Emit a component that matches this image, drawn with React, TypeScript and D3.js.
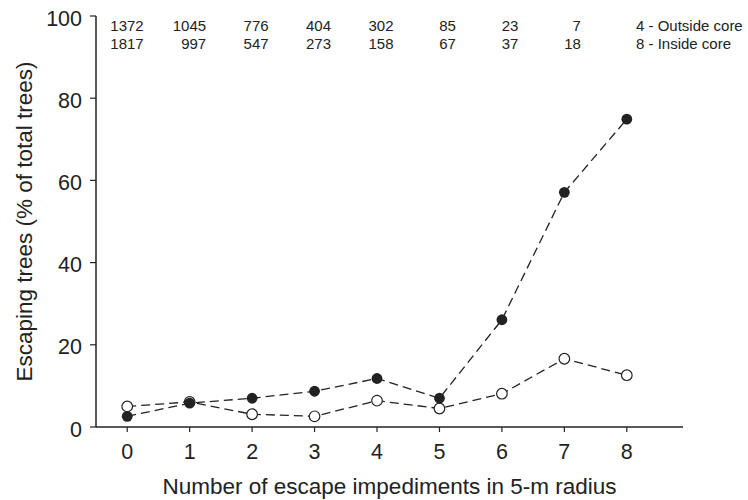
import React from 'react';
import * as d3 from 'd3';

// impediment counts on the x axis
const impediments = [0, 1, 2, 3, 4, 5, 6, 7, 8];
// sample sizes printed along the top
const outsideCoreN = [1372, 1045, 776, 404, 302, 85, 23, 7];
const insideCoreN = [1817, 997, 547, 273, 158, 67, 37, 18];
const nLabels = ['4 - Outside core', '8 - Inside core'];
// escaping trees (% of total trees)
const filledSeries = [2.6, 5.8, 7.0, 8.7, 11.8, 7.0, 26.1, 57.1, 74.9];
const openSeries = [5.0, 6.1, 3.1, 2.6, 6.4, 4.5, 8.1, 16.6, 12.6];
const yTicks = [0, 20, 40, 60, 80, 100];

const App = () => {
    const width = 748;
    const height = 500;
    const ink = '#222';
    const font = '"Liberation Sans", Arial, sans-serif';

    const x = d3.scaleLinear().domain([-0.5, 8.9]).range([96, 683]);
    const y = d3.scaleLinear().domain([0, 100]).range([427, 16]);

    const line = d3.line<number>()
        .x((d, i) => x(impediments[i]))
        .y(d => y(d));

    const nRows = [outsideCoreN, insideCoreN];

    return (
        <svg width={width} height={height} style={{ position: 'absolute', left: 0, top: 0 }} fontFamily={font}>
            <rect width={width} height={height} fill="white" />

            {/* axes */}
            <line x1={x(-0.5)} x2={x(-0.5)} y1={y(100)} y2={y(0)} stroke={ink} strokeWidth={1.5} />
            <line x1={x(-0.5)} x2={x(8.9)} y1={y(0)} y2={y(0)} stroke={ink} strokeWidth={1.5} />
            {yTicks.map(t => (
                <g key={t}>
                    <line x1={x(-0.5) - 6} x2={x(-0.5)} y1={y(t)} y2={y(t)} stroke={ink} strokeWidth={1.2} />
                    <text x={x(-0.5) - 14} y={y(t) + 9.5} textAnchor="end" fontSize={21.5} fill={ink}>{t}</text>
                </g>
            ))}
            {impediments.map(v => (
                <g key={v}>
                    <line x1={x(v)} x2={x(v)} y1={y(0)} y2={y(0) + 5} stroke={ink} strokeWidth={1.2} />
                    <text x={x(v)} y={y(0) + 31.5} textAnchor="middle" fontSize={21.5} fill={ink}>{v}</text>
                </g>
            ))}

            {/* axis titles */}
            <text x={(x(-0.5) + x(8.9)) / 2} y={493.5} textAnchor="middle" fontSize={22.5} fill={ink}>
                Number of escape impediments in 5-m radius
            </text>
            <text transform={`translate(32, ${(y(0) + y(100)) / 2}) rotate(-90)`} textAnchor="middle" fontSize={22.5} fill={ink}>
                Escaping trees (% of total trees)
            </text>

            {/* sample sizes */}
            {nRows.map((row, r) => (
                <g key={r}>
                    {row.map((n, i) => (
                        <text key={i} x={x(impediments[i]) + 16.5} y={30.5 + r * 18.5} textAnchor="end" fontSize={15} fill={ink}>{n}</text>
                    ))}
                    <text x={636} y={30.5 + r * 18.5} fontSize={15} fill={ink}>{nLabels[r]}</text>
                </g>
            ))}

            {/* series */}
            <path d={line(filledSeries) || ''} fill="none" stroke={ink} strokeWidth={1.3} strokeDasharray="9,5" />
            <path d={line(openSeries) || ''} fill="none" stroke={ink} strokeWidth={1.3} strokeDasharray="9,5" />
            {openSeries.map((d, i) => (
                <circle key={'o' + i} cx={x(impediments[i])} cy={y(d)} r={5.3} fill="white" stroke={ink} strokeWidth={1.2} />
            ))}
            {filledSeries.map((d, i) => (
                <circle key={'f' + i} cx={x(impediments[i])} cy={y(d)} r={5.4} fill={ink} />
            ))}
        </svg>
    );
};

export default App;
